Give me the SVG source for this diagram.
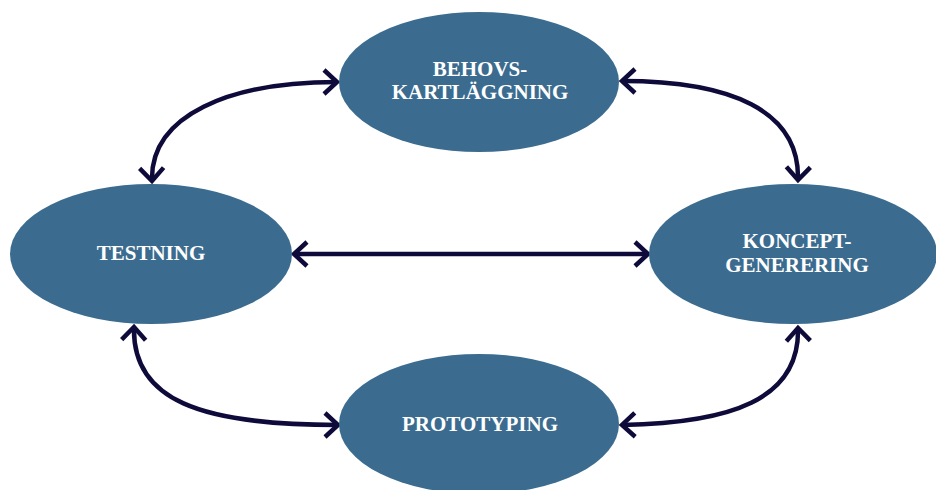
<svg xmlns="http://www.w3.org/2000/svg" width="936" height="490" viewBox="0 0 936 490">
<style>
.node{fill:#3b6c8f}
.lbl{font-family:"Liberation Serif","Times New Roman",serif;font-weight:bold;font-size:21px;fill:#ffffff;text-anchor:middle}
.con{fill:none;stroke:#0e0b3b;stroke-width:4.5}
</style>
<defs>
<marker id="ah" markerUnits="userSpaceOnUse" viewBox="-20 -16 24 32" refX="0" refY="0" markerWidth="24" markerHeight="32" orient="auto-start-reverse" overflow="visible">
<path d="M-13,-12 L0,0 L-13,12" fill="none" stroke="#0e0b3b" stroke-width="4.5" stroke-linejoin="miter"/>
</marker>
</defs>
<rect width="936" height="490" fill="#ffffff"/>
<g id="connectors">
<path class="con" d="M152,181 C150,115 230,82 337,82" marker-start="url(#ah)" marker-end="url(#ah)"/>
<path class="con" d="M622,81 C730,81 800,110 798,180" marker-start="url(#ah)" marker-end="url(#ah)"/>
<path class="con" d="M134,327 C132,400 200,425 338,425" marker-start="url(#ah)" marker-end="url(#ah)"/>
<path class="con" d="M622,425 C730,423 800,400 798,328" marker-start="url(#ah)" marker-end="url(#ah)"/>
<path class="con" d="M294,254 L648,254" stroke-width="4" marker-start="url(#ah)" marker-end="url(#ah)"/>
</g>
<g id="behovs">
<ellipse class="node" cx="479" cy="82" rx="140" ry="70"/>
<text class="lbl" x="480" y="76">BEHOVS-</text>
<text class="lbl" x="480" y="99">KARTLÄGGNING</text>
</g>
<g id="testning">
<ellipse class="node" cx="151" cy="254" rx="141" ry="70"/>
<text class="lbl" x="151" y="260">TESTNING</text>
</g>
<g id="koncept">
<ellipse class="node" cx="793" cy="254" rx="144" ry="70"/>
<text class="lbl" x="797" y="248">KONCEPT-</text>
<text class="lbl" x="797" y="272">GENERERING</text>
</g>
<g id="prototyping">
<ellipse class="node" cx="479" cy="424" rx="140" ry="70"/>
<text class="lbl" x="480" y="431">PROTOTYPING</text>
</g>
</svg>
